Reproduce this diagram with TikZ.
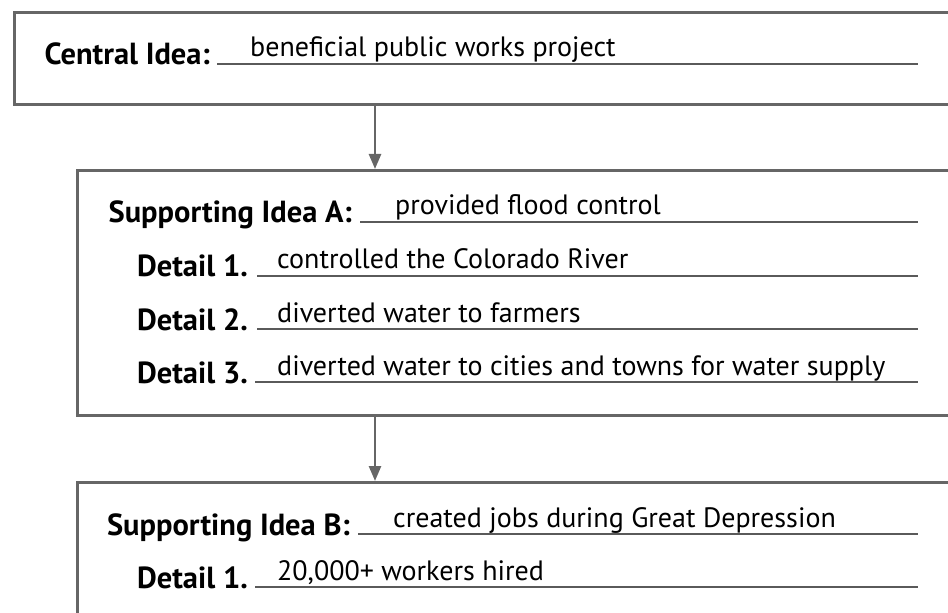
\documentclass[tikz,border=0pt]{standalone}
\usepackage{fontspec}
\setmainfont{PT Sans}
\usetikzlibrary{arrows.meta}
\definecolor{boxgray}{HTML}{666666}
\definecolor{linegray}{HTML}{5A5A5A}
\begin{document}
\begin{tikzpicture}[x=1bp,y=-1bp,
  box/.style={draw=boxgray, line width=3bp, rectangle, inner sep=0pt, anchor=north west},
  uline/.style={draw=linegray, line width=2bp},
  lab/.style={font=\fontsize{30.5bp}{34bp}\selectfont\bfseries, anchor=base east, inner sep=0pt},
  ans/.style={font=\fontsize{28bp}{32bp}\selectfont, anchor=base west, inner sep=0pt},
  arr/.style={draw=boxgray, line width=2.5bp, -{Triangle[length=15bp,width=12bp]}}]
\useasboundingbox (0,0) rectangle (948,613);
\clip (0,0) rectangle (948,613);
% boxes
\node[box, minimum width=960bp, minimum height=92bp] (b1) at (13,11) {};
\node[box, minimum width=900bp, minimum height=245bp] (b2) at (76,169) {};
\node[box, minimum width=900bp, minimum height=200bp] (b3) at (76,481) {};
% arrows
\coordinate (ax) at (375,0);
\draw[arr] (b1.south -| ax) -- (b2.north -| ax);
\draw[arr] (b2.south -| ax) -- (b3.north -| ax);
% row 1
\draw[uline] (217,64) -- (918,64);
\node[lab] (l1) at (210,65) {Central Idea:};
\node[ans] (t1) at (250,57) {beneficial public works project};
% row 2
\draw[uline] (360,222) -- (918,222);
\node[lab] (l2) at (352,223) {Supporting Idea A:};
\node[ans] (t2) at (395,215) {provided flood control};
% row 3
\draw[uline] (257,276) -- (918,276);
\node[lab] (l3) at (248,277) {Detail 1.};
\node[ans] (t3) at (277,269) {controlled the Colorado River};
% row 4
\draw[uline] (257,329) -- (918,329);
\node[lab] (l4) at (248,330) {Detail 2.};
\node[ans] (t4) at (277,322) {diverted water to farmers};
% row 5
\draw[uline] (255,382) -- (918,382);
\node[lab] (l5) at (248,383) {Detail 3.};
\node[ans] (t5) at (277,375) {diverted water to cities and towns for water supply};
% row 6
\draw[uline] (358,534) -- (918,534);
\node[lab] (l6) at (350,535) {Supporting Idea B:};
\node[ans] (t6) at (393,527) {created jobs during Great Depression};
% row 7
\draw[uline] (255,587) -- (918,587);
\node[lab] (l7) at (248,588) {Detail 1.};
\node[ans] (t7) at (277,580) {20,000+ workers hired};
\end{tikzpicture}
\end{document}
